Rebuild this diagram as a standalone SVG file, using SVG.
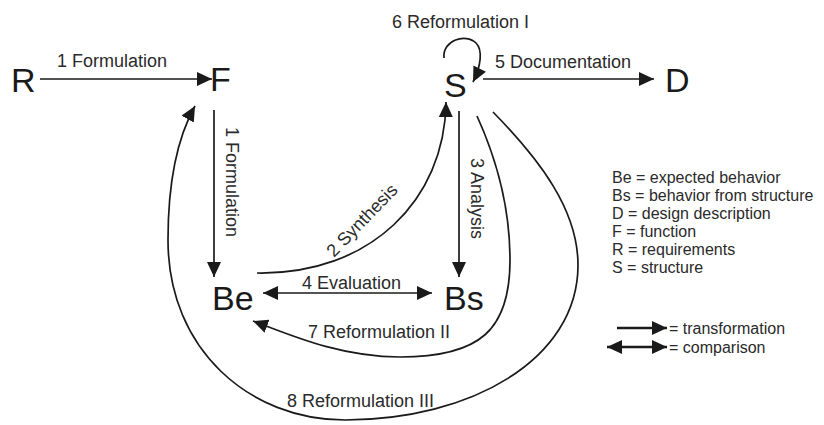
<svg xmlns="http://www.w3.org/2000/svg" width="824" height="425" viewBox="0 0 824 425">
<style>
.node{font-family:"Liberation Sans",Arial,sans-serif;font-size:34px;fill:#1a1a1a}
.lbl{font-family:"Liberation Sans",Arial,sans-serif;font-size:18px;fill:#2a2a2a}
.leg{font-family:"Liberation Sans",Arial,sans-serif;font-size:16px;fill:#2a2a2a}
.edge{fill:none;stroke:#1a1a1a;stroke-width:1.7}
.legedge{fill:none;stroke:#1a1a1a;stroke-width:2.4}
</style>
<defs>
<marker id="arr" markerUnits="userSpaceOnUse" markerWidth="15" markerHeight="14" refX="15" refY="7" orient="auto-start-reverse">
<path d="M0,0 L15,7 L0,14 z" fill="#1a1a1a"/>
</marker>
</defs>
<rect width="824" height="425" fill="#ffffff"/>
<g id="connectors">
<path class="edge" d="M40,79 L212,79" marker-end="url(#arr)"/>
<path class="edge" d="M483,79 L654,79" marker-end="url(#arr)"/>
<path class="edge" d="M214,110 L214,277" marker-end="url(#arr)"/>
<path class="edge" d="M459,111 L459,277" marker-end="url(#arr)"/>
<path class="edge" d="M263,293 L432,293" marker-start="url(#arr)" marker-end="url(#arr)"/>
<path class="edge" d="M257,273 C370,275 445,200 446,102" marker-end="url(#arr)"/>
<path class="edge" d="M444,58 C442,40 466,33 476,43 C483,50 481,66 473,82" marker-end="url(#arr)"/>
<path class="edge" d="M477,116 C497,160 510,210 510,260 C510,330 480,357 400,357 C340,357 290,335 253,321" marker-end="url(#arr)"/>
<path class="edge" d="M493,112 C540,160 578,210 578,265 C578,360 470,420 345,420 C250,420 168,350 168,240 C168,185 176,140 195,106" marker-end="url(#arr)"/>
<text class="lbl" x="57" y="67">1 Formulation</text>
<text class="lbl" x="495" y="68">5 Documentation</text>
<text class="lbl" x="392" y="28">6 Reformulation I</text>
<text class="lbl" transform="translate(226,127) rotate(90)">1 Formulation</text>
<text class="lbl" transform="translate(471,158) rotate(90)">3 Analysis</text>
<text class="lbl" transform="translate(334,258) rotate(-46)">2 Synthesis</text>
<text class="lbl" x="302" y="289">4 Evaluation</text>
<text class="lbl" x="308" y="338">7 Reformulation II</text>
<text class="lbl" x="287" y="407">8 Reformulation III</text>
</g>
<g id="node-R"><text class="node" x="11" y="92">R</text></g>
<g id="node-F"><text class="node" x="210" y="91">F</text></g>
<g id="node-S"><text class="node" x="444" y="97">S</text></g>
<g id="node-D"><text class="node" x="665" y="92">D</text></g>
<g id="node-Be"><text class="node" x="212" y="310">Be</text></g>
<g id="node-Bs"><text class="node" x="444" y="310">Bs</text></g>
<g id="legend">
<text class="leg" x="612" y="183">Be = expected behavior</text>
<text class="leg" x="612" y="201">Bs = behavior from structure</text>
<text class="leg" x="612" y="219">D = design description</text>
<text class="leg" x="612" y="237">F = function</text>
<text class="leg" x="612" y="255">R = requirements</text>
<text class="leg" x="612" y="273">S = structure</text>
<path class="legedge" d="M617,328 L667,328" marker-end="url(#arr)"/>
<path class="legedge" d="M607,347 L667,347" marker-start="url(#arr)" marker-end="url(#arr)"/>
<text class="leg" x="669" y="334">= transformation</text>
<text class="leg" x="669" y="353">= comparison</text>
</g>
</svg>
